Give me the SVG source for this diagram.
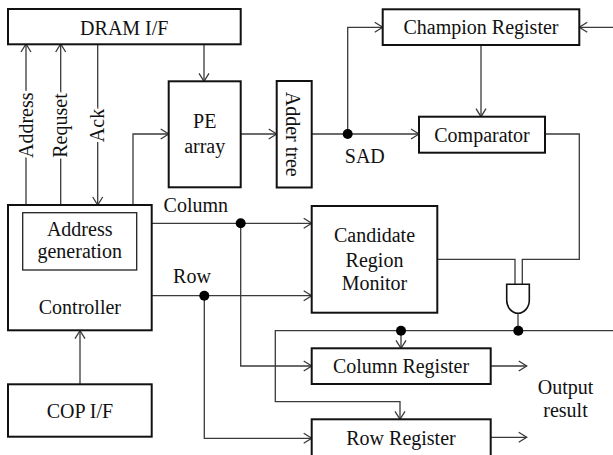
<svg xmlns="http://www.w3.org/2000/svg" width="613" height="455" viewBox="0 0 613 455">
  <style>
    text { font-family: "Liberation Serif", "Times New Roman", serif; font-size: 20px; fill: #111; text-anchor: middle; }
    .box { fill: #fff; stroke: #111; stroke-width: 2; }
    .inner { fill: none; stroke: #222; stroke-width: 1.3; }
    .wire { fill: none; stroke: #3a3a3a; stroke-width: 1.3; }
    .arr { marker-end: url(#open); }
    .dot { fill: #000; }
    .lbl { paint-order: stroke; stroke: #fff; stroke-width: 6px; stroke-linejoin: round; }
  </style>
  <defs>
    <marker id="open" markerUnits="userSpaceOnUse" markerWidth="12" markerHeight="12" viewBox="-1 -6 10 12" refX="8" refY="0" orient="auto">
      <path d="M0,-5 L8,0 L0,5" fill="none" stroke="#3a3a3a" stroke-width="1.3"/>
    </marker>
  </defs>
  <rect width="613" height="455" fill="#fff"/>

  <!-- connectors -->
  <g id="connectors">
    <path class="wire arr" d="M26,205 V44"/>
    <path class="wire arr" d="M60.7,205 V44"/>
    <path class="wire arr" d="M97.7,44 V205"/>
    <path class="wire arr" d="M133,205 V134 H168.7"/>
    <path class="wire arr" d="M204,44 V81.3"/>
    <path class="wire arr" d="M240.7,134 H276.7"/>
    <path class="wire arr" d="M311.7,134 H419"/>
    <path class="wire arr" d="M347.7,134 V27.3 H382.7"/>
    <path class="wire arr" d="M613,27.3 H579.3"/>
    <path class="wire arr" d="M481,45 V116.7"/>
    <path class="wire" d="M545,134 H579.3 V259.3 H522.3 V284.3"/>
    <path class="wire" d="M437.3,259.3 H515 V284.3"/>
    <path class="wire" d="M518,313.3 V330.7"/>
    <path class="wire arr" d="M613,330.7 H275.3 V401.7 H400 V419.3"/>
    <path class="wire arr" d="M401,330.7 V348.3"/>
    <path class="wire arr" d="M151.7,223.3 H311.7"/>
    <path class="wire arr" d="M240.7,223.3 V366 H311.7"/>
    <path class="wire arr" d="M151.7,295.7 H311.7"/>
    <path class="wire arr" d="M204.3,295.7 V438.3 H311.7"/>
    <path class="wire arr" d="M490.7,366 H526.7"/>
    <path class="wire arr" d="M490.7,437.3 H526.7"/>
    <path class="wire arr" d="M80,384.3 V330.7"/>
    <circle class="dot" cx="347.7" cy="134" r="5"/>
    <circle class="dot" cx="240.7" cy="223.3" r="5"/>
    <circle class="dot" cx="204.3" cy="295.7" r="5"/>
    <circle class="dot" cx="401" cy="330.7" r="5"/>
    <circle class="dot" cx="518.3" cy="330.7" r="5"/>
    <text class="lbl" transform="translate(32.5,125.3) rotate(-90)">Address</text>
    <text class="lbl" transform="translate(66.8,125.5) rotate(-90)">Requset</text>
    <text class="lbl" transform="translate(104,125.5) rotate(-90)">Ack</text>
    <text x="364.8" y="162.7">SAD</text>
    <text x="195.8" y="211.7">Column</text>
    <text x="192" y="283.3">Row</text>
    <text x="565.5" y="394.3">Output</text>
    <text x="565.5" y="416.7">result</text>
  </g>

  <g id="dram-if">
    <rect class="box" x="8" y="9" width="232.7" height="35.3"/>
    <text x="124.3" y="35">DRAM I/F</text>
  </g>
  <g id="champion-register">
    <rect class="box" x="382.7" y="9.3" width="196.6" height="35.7"/>
    <text x="481" y="34">Champion Register</text>
  </g>
  <g id="pe-array">
    <rect class="box" x="168.7" y="81.3" width="72" height="106"/>
    <text x="204.7" y="128.3">PE</text>
    <text x="204.7" y="152.7">array</text>
  </g>
  <g id="adder-tree">
    <rect class="box" x="276.7" y="81" width="35" height="106.5"/>
    <text transform="translate(286,134.2) rotate(90)">Adder tree</text>
  </g>
  <g id="comparator">
    <rect class="box" x="419" y="116.7" width="126" height="36"/>
    <text x="482" y="142">Comparator</text>
  </g>
  <g id="controller">
    <rect class="box" x="8" y="205" width="143.7" height="125.3"/>
    <rect class="inner" x="22.7" y="212.7" width="114" height="57.3"/>
    <text x="79.7" y="236">Address</text>
    <text x="79.7" y="258.3">generation</text>
    <text x="79.9" y="314.3">Controller</text>
  </g>
  <g id="candidate-region-monitor">
    <rect class="box" x="311.7" y="206" width="125.6" height="106.7"/>
    <text x="374.5" y="241.7">Candidate</text>
    <text x="374.5" y="266.7">Region</text>
    <text x="374.5" y="290">Monitor</text>
  </g>
  <g id="and-gate">
    <path d="M506.7,284.3 H529.3 V300 A11.3,13.3 0 0 1 506.7,300 Z" fill="#fff" stroke="#111" stroke-width="1.6"/>
  </g>
  <g id="column-register">
    <rect class="box" x="311.7" y="348.3" width="179" height="35.7"/>
    <text x="401" y="372.7">Column Register</text>
  </g>
  <g id="row-register">
    <rect class="box" x="311.7" y="419.3" width="179" height="40"/>
    <text x="401" y="445">Row Register</text>
  </g>
  <g id="cop-if">
    <rect class="box" x="8" y="384.3" width="143.7" height="52.4"/>
    <text x="79.9" y="418.3">COP I/F</text>
  </g>
</svg>
